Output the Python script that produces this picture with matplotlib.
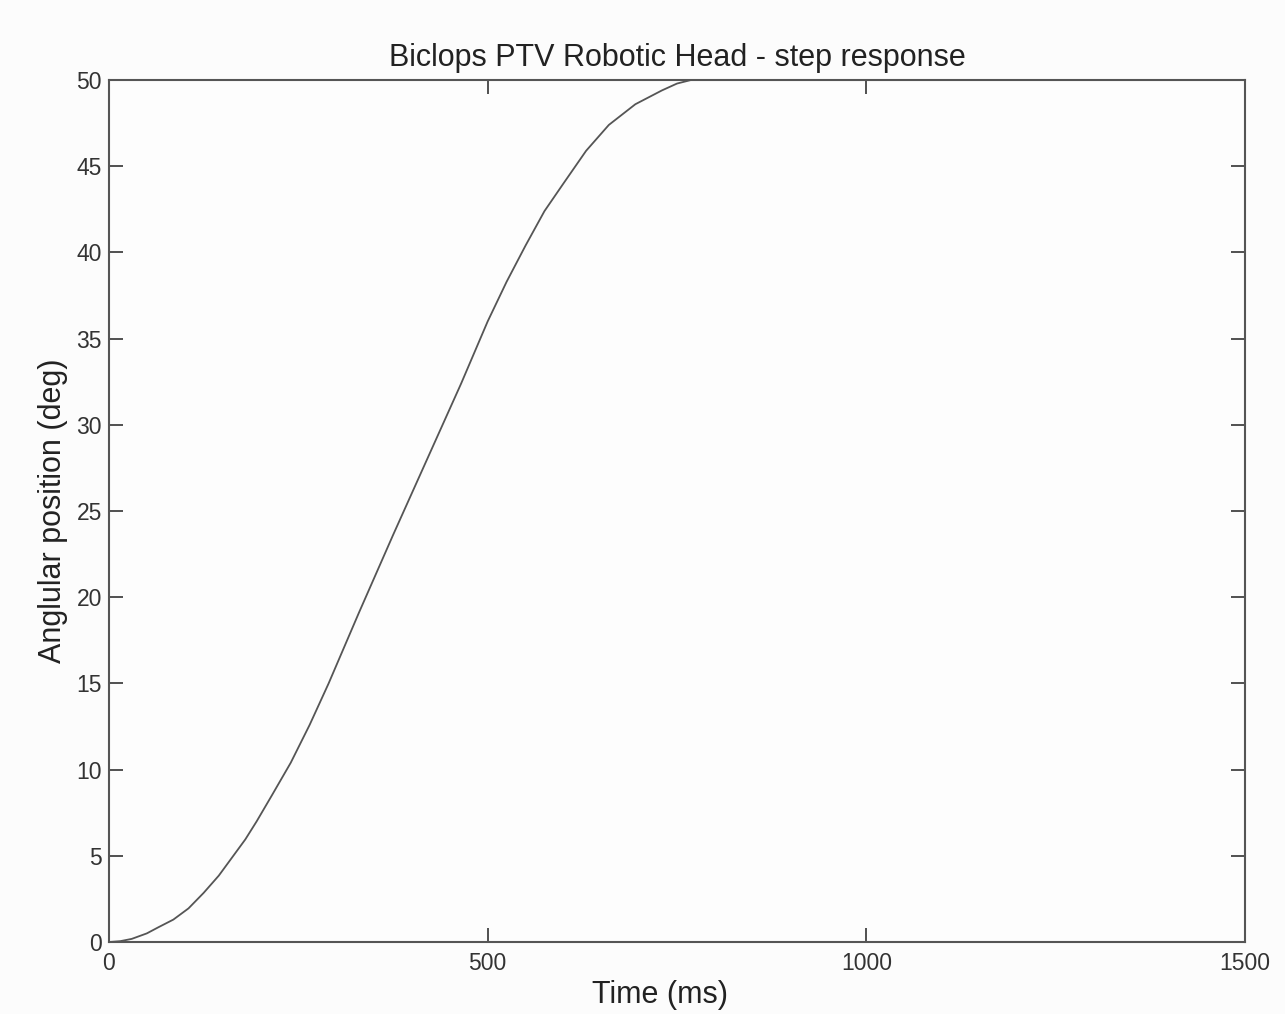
import matplotlib.pyplot as plt

# step response
t_ms = [0, 15, 30, 50, 65, 85, 105, 125, 145, 160, 180, 195, 215, 240, 265,
        290, 330, 375, 420, 465, 500, 525, 550, 575, 600, 630, 660, 695,
        730, 750, 768, 1500]
pos_deg = [0, 0.05, 0.18, 0.5, 0.85, 1.3, 1.95, 2.85, 3.85, 4.75, 5.95, 7.0,
           8.5, 10.4, 12.6, 15.0, 19.1, 23.6, 28.0, 32.4, 36.0, 38.3, 40.4,
           42.4, 44.0, 45.9, 47.4, 48.6, 49.4, 49.8, 50.0, 50.0]

x_ticks = [0, 500, 1000, 1500]
y_ticks = [0, 5, 10, 15, 20, 25, 30, 35, 40, 45, 50]

plt.rcParams['font.family'] = ['Liberation Sans', 'DejaVu Sans']

fig = plt.figure(figsize=(12.85, 10.14), dpi=100)
fig.patch.set_facecolor('#fcfcfc')
ax = fig.add_axes([0.0848, 0.071, 0.8841, 0.850])
ax.set_facecolor('#fdfdfd')

ax.plot(t_ms, pos_deg, color='#555555', lw=1.3)

ax.set_xlim(0, 1500)
ax.set_ylim(0, 50)
ax.set_xticks(x_ticks)
ax.set_yticks(y_ticks)
ax.tick_params(direction='in', length=10, width=1.2, colors='#333333',
               top=True, right=True, pad=6)
ax.tick_params(axis='x', labelsize=16.5, pad=7)
ax.tick_params(axis='y', labelsize=16.5, pad=5)
for s in ax.spines.values():
    s.set_color('#555555')
    s.set_linewidth(1.5)

ax.set_title('Biclops PTV Robotic Head - step response', fontsize=22,
             color='#222222', pad=10)
ax.set_xlabel('Time (ms)', fontsize=22, color='#222222', labelpad=4)
ax.xaxis.label.set_x(0.485)
ax.set_ylabel('Anglular position (deg)', fontsize=22, color='#222222', labelpad=6)

plt.savefig('out.png', dpi=100, facecolor=fig.get_facecolor())
plt.close()
